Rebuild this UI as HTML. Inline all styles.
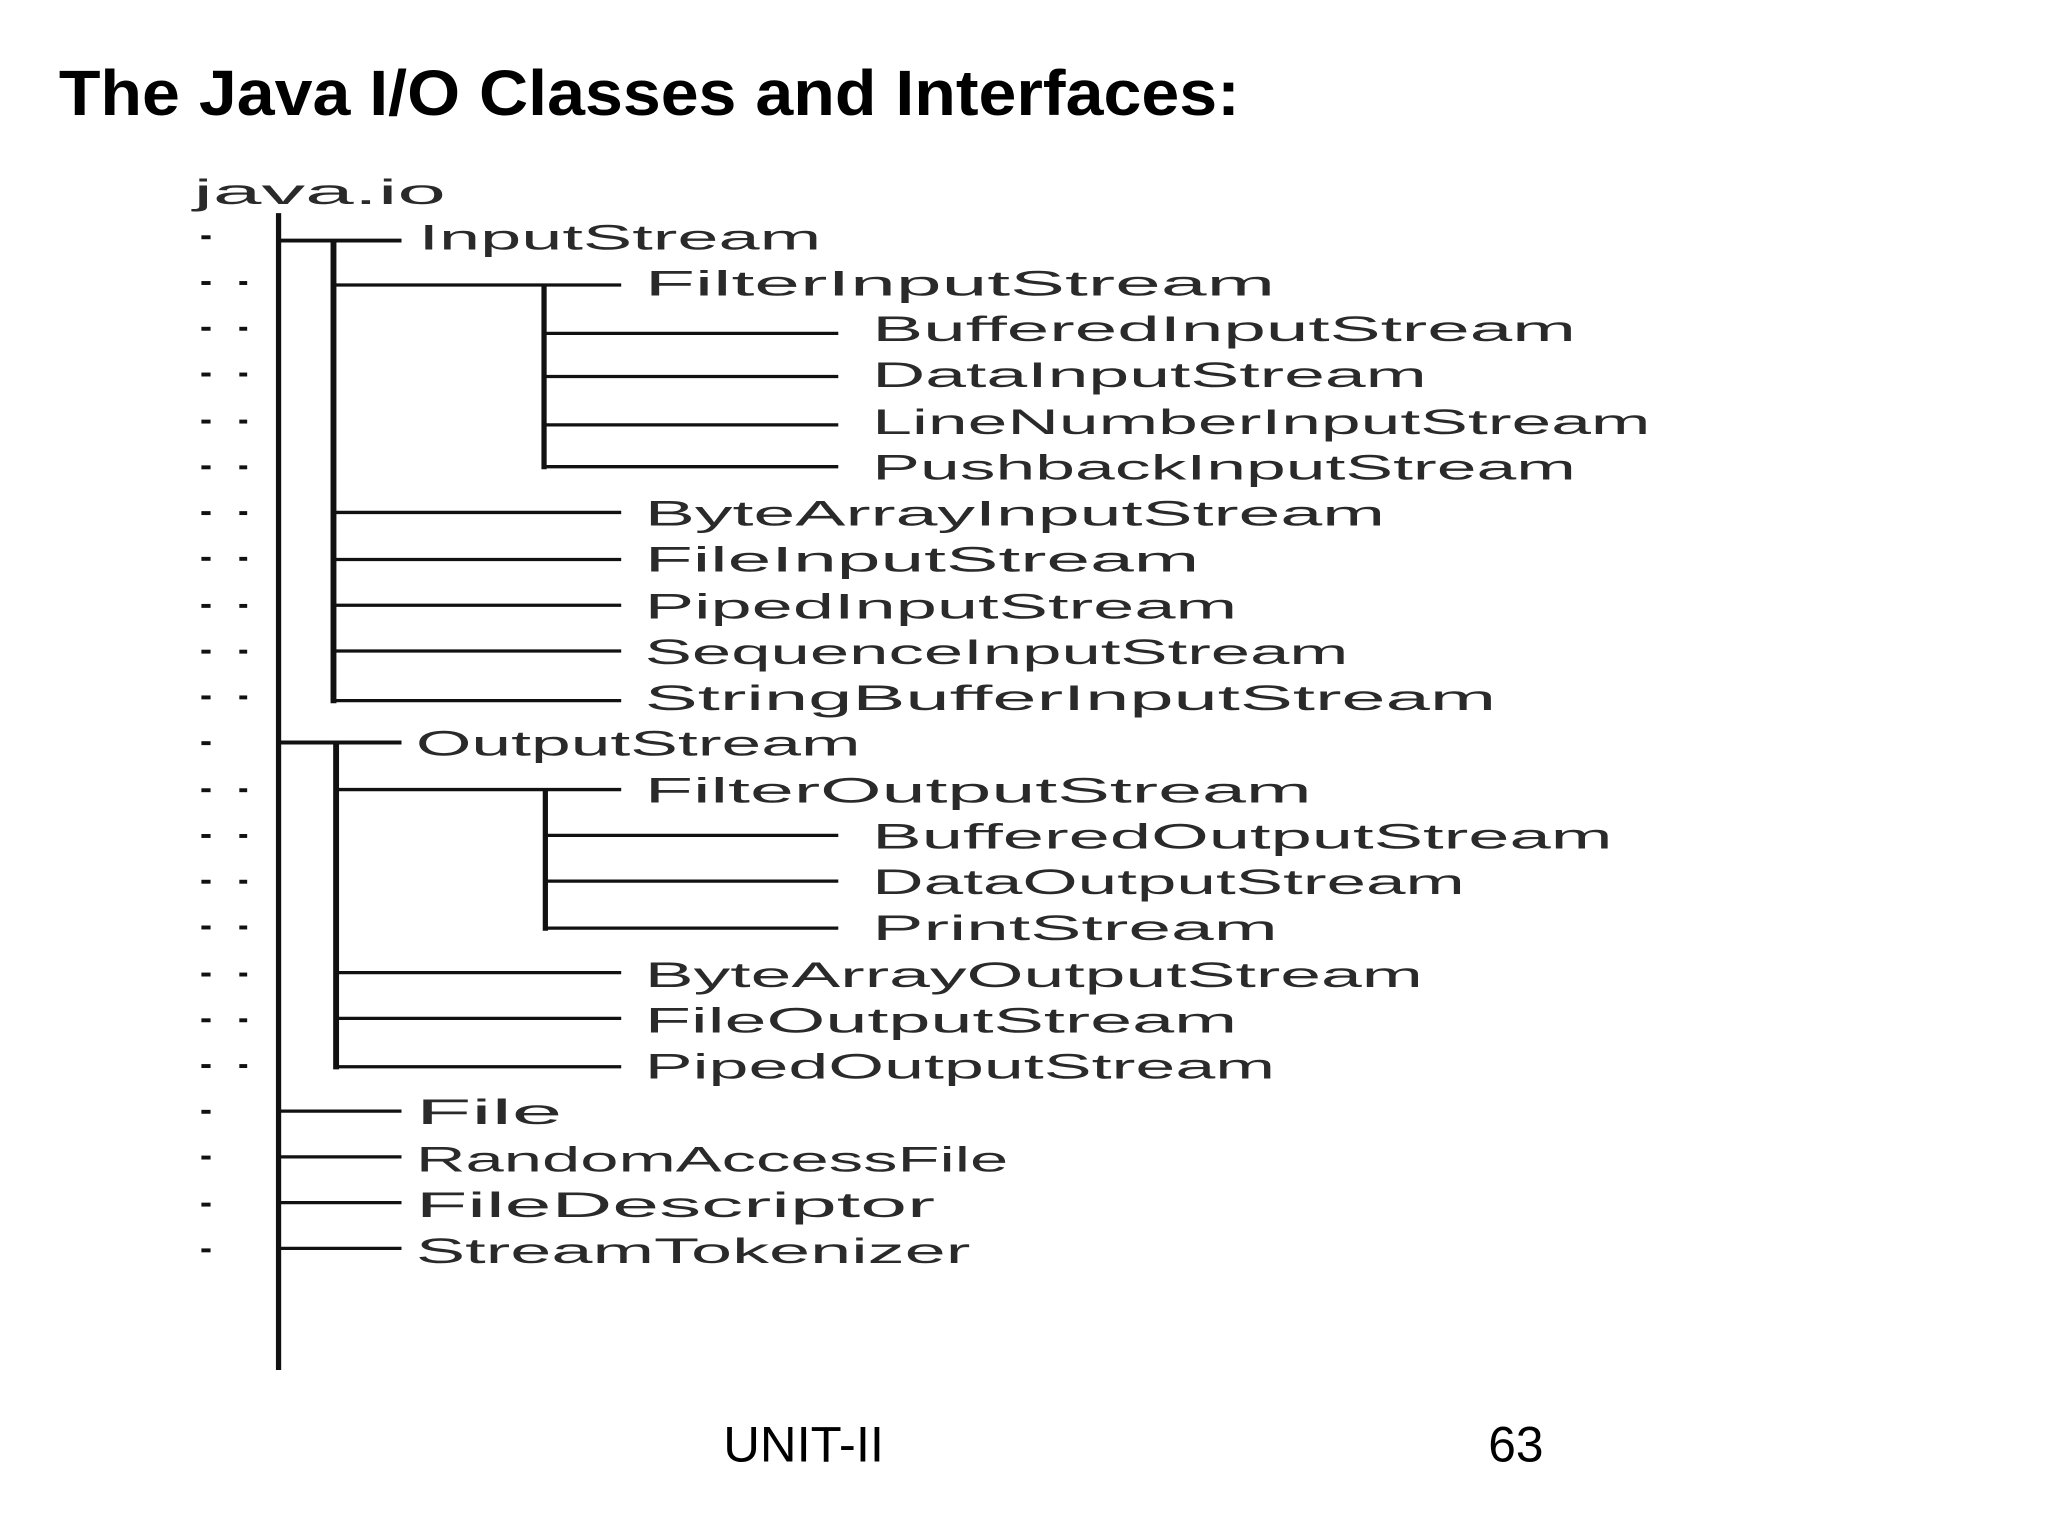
<!DOCTYPE html>
<html><head><meta charset="utf-8"><style>
html,body{margin:0;padding:0;background:#fff;}
svg{display:block;}
</style></head><body>
<svg width="2048" height="1536" viewBox="0 0 1566 1175" preserveAspectRatio="none" xmlns="http://www.w3.org/2000/svg">
<rect width="1566" height="1175" fill="#fff"/>
<text x="45" y="88" font-family="Liberation Sans, sans-serif" font-weight="bold" font-size="49" fill="#000" textLength="903" lengthAdjust="spacingAndGlyphs">The Java I/O Classes and Interfaces:</text>
<g font-family="Liberation Sans, sans-serif" font-size="27" fill="#2a2a2a">
<text x="148" y="156" textLength="193" lengthAdjust="spacingAndGlyphs">java.io</text>
<text x="320" y="191" textLength="308" lengthAdjust="spacingAndGlyphs">InputStream</text>
<text x="493" y="226" textLength="482" lengthAdjust="spacingAndGlyphs">FilterInputStream</text>
<text x="667" y="261" textLength="538" lengthAdjust="spacingAndGlyphs">BufferedInputStream</text>
<text x="667" y="296" textLength="424" lengthAdjust="spacingAndGlyphs">DataInputStream</text>
<text x="667" y="332" textLength="595" lengthAdjust="spacingAndGlyphs">LineNumberInputStream</text>
<text x="667" y="367" textLength="538" lengthAdjust="spacingAndGlyphs">PushbackInputStream</text>
<text x="493" y="402" textLength="566" lengthAdjust="spacingAndGlyphs">ByteArrayInputStream</text>
<text x="493" y="437" textLength="424" lengthAdjust="spacingAndGlyphs">FileInputStream</text>
<text x="493" y="473" textLength="453" lengthAdjust="spacingAndGlyphs">PipedInputStream</text>
<text x="493" y="508" textLength="538" lengthAdjust="spacingAndGlyphs">SequenceInputStream</text>
<text x="493" y="543" textLength="651" lengthAdjust="spacingAndGlyphs">StringBufferInputStream</text>
<text x="318" y="578" textLength="340" lengthAdjust="spacingAndGlyphs">OutputStream</text>
<text x="493" y="614" textLength="510" lengthAdjust="spacingAndGlyphs">FilterOutputStream</text>
<text x="667" y="649" textLength="566" lengthAdjust="spacingAndGlyphs">BufferedOutputStream</text>
<text x="667" y="684" textLength="453" lengthAdjust="spacingAndGlyphs">DataOutputStream</text>
<text x="667" y="719" textLength="310" lengthAdjust="spacingAndGlyphs">PrintStream</text>
<text x="493" y="755" textLength="595" lengthAdjust="spacingAndGlyphs">ByteArrayOutputStream</text>
<text x="493" y="790" textLength="453" lengthAdjust="spacingAndGlyphs">FileOutputStream</text>
<text x="493" y="825" textLength="482" lengthAdjust="spacingAndGlyphs">PipedOutputStream</text>
<text x="318" y="860" textLength="112" lengthAdjust="spacingAndGlyphs">File</text>
<text x="318" y="896" textLength="453" lengthAdjust="spacingAndGlyphs">RandomAccessFile</text>
<text x="318" y="931" textLength="397" lengthAdjust="spacingAndGlyphs">FileDescriptor</text>
<text x="318" y="966" textLength="424" lengthAdjust="spacingAndGlyphs">StreamTokenizer</text>
</g>
<g fill="#111">
<rect x="154" y="180" width="7" height="3"/><rect x="154" y="567" width="7" height="3"/>
<rect x="154" y="849" width="7" height="3"/><rect x="154" y="884" width="7" height="3"/>
<rect x="154" y="920" width="7" height="3"/><rect x="154" y="955" width="7" height="3"/>
</g>
<g fill="#111">
<rect x="154" y="215" width="7" height="3"/><rect x="183" y="215" width="6" height="3"/>
<rect x="154" y="250" width="7" height="3"/><rect x="183" y="250" width="6" height="3"/>
<rect x="154" y="285" width="7" height="3"/><rect x="183" y="285" width="6" height="3"/>
<rect x="154" y="321" width="7" height="3"/><rect x="183" y="321" width="6" height="3"/>
<rect x="154" y="356" width="7" height="3"/><rect x="183" y="356" width="6" height="3"/>
<rect x="154" y="391" width="7" height="3"/><rect x="183" y="391" width="6" height="3"/>
<rect x="154" y="426" width="7" height="3"/><rect x="183" y="426" width="6" height="3"/>
<rect x="154" y="462" width="7" height="3"/><rect x="183" y="462" width="6" height="3"/>
<rect x="154" y="497" width="7" height="3"/><rect x="183" y="497" width="6" height="3"/>
<rect x="154" y="532" width="7" height="3"/><rect x="183" y="532" width="6" height="3"/>
<rect x="154" y="603" width="7" height="3"/><rect x="183" y="603" width="6" height="3"/>
<rect x="154" y="638" width="7" height="3"/><rect x="183" y="638" width="6" height="3"/>
<rect x="154" y="673" width="7" height="3"/><rect x="183" y="673" width="6" height="3"/>
<rect x="154" y="708" width="7" height="3"/><rect x="183" y="708" width="6" height="3"/>
<rect x="154" y="744" width="7" height="3"/><rect x="183" y="744" width="6" height="3"/>
<rect x="154" y="779" width="7" height="3"/><rect x="183" y="779" width="6" height="3"/>
<rect x="154" y="814" width="7" height="3"/><rect x="183" y="814" width="6" height="3"/>
</g>
<g stroke="#111" fill="none">
<line x1="213" y1="163" x2="213" y2="1048" stroke-width="4"/>
<line x1="213" y1="184" x2="307" y2="184" stroke-width="3"/>
<line x1="255" y1="184" x2="255" y2="538" stroke-width="4.5"/>
<g stroke-width="2.5">
<line x1="255" y1="218" x2="475" y2="218"/>
<line x1="255" y1="392" x2="475" y2="392"/>
<line x1="255" y1="428" x2="475" y2="428"/>
<line x1="255" y1="463" x2="475" y2="463"/>
<line x1="255" y1="498" x2="475" y2="498"/>
<line x1="255" y1="536" x2="475" y2="536"/>
</g>
<line x1="416" y1="218" x2="416" y2="359" stroke-width="4"/>
<g stroke-width="2.5">
<line x1="416" y1="255" x2="641" y2="255"/>
<line x1="416" y1="288" x2="641" y2="288"/>
<line x1="416" y1="325" x2="641" y2="325"/>
<line x1="416" y1="357" x2="641" y2="357"/>
</g>
<line x1="213" y1="568" x2="307" y2="568" stroke-width="3"/>
<line x1="257" y1="568" x2="257" y2="818" stroke-width="4.5"/>
<g stroke-width="2.5">
<line x1="257" y1="604" x2="475" y2="604"/>
<line x1="257" y1="744" x2="475" y2="744"/>
<line x1="257" y1="779" x2="475" y2="779"/>
<line x1="257" y1="816" x2="475" y2="816"/>
</g>
<line x1="417" y1="604" x2="417" y2="712" stroke-width="4"/>
<g stroke-width="2.5">
<line x1="417" y1="639" x2="641" y2="639"/>
<line x1="417" y1="674" x2="641" y2="674"/>
<line x1="417" y1="710" x2="641" y2="710"/>
</g>
<g stroke-width="2.5">
<line x1="213" y1="850" x2="307" y2="850"/>
<line x1="213" y1="885" x2="307" y2="885"/>
<line x1="213" y1="920" x2="307" y2="920"/>
<line x1="213" y1="955" x2="307" y2="955"/>
</g>
</g>
<g font-family="Liberation Sans, sans-serif" font-size="38" fill="#000">
<text x="553" y="1118" textLength="123" lengthAdjust="spacingAndGlyphs">UNIT-II</text>
<text x="1138" y="1118">63</text>
</g>
</svg>
</body></html>
